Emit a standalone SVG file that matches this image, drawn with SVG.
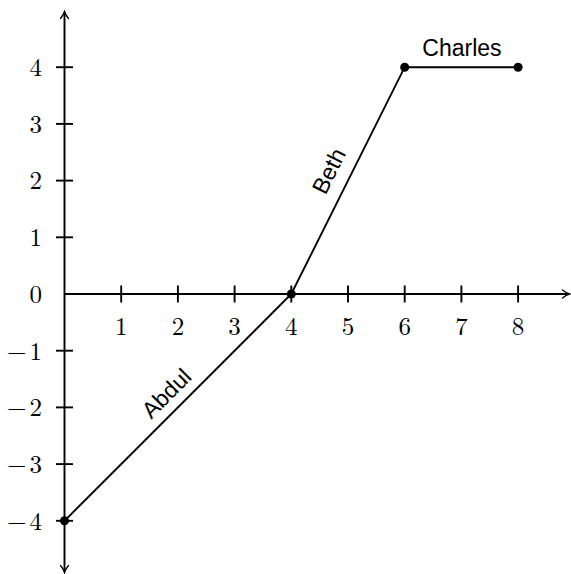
<svg xmlns="http://www.w3.org/2000/svg" width="571" height="574" viewBox="0 0 571 574">
<defs>
<style>
.ax{stroke:#000;stroke-width:1.9;fill:none}
.tk{stroke:#000;stroke-width:1.9}
.num{font-family:"Latin Modern Roman","Liberation Serif",serif;font-size:25px;fill:#000}
.nl{text-anchor:end}
.nx{text-anchor:middle}
.lbl{font-family:"Liberation Sans","DejaVu Sans",sans-serif;font-size:23px;fill:#000;text-anchor:middle}
.seg{stroke:#000;stroke-width:1.9;fill:none}
.dot{fill:#000}
</style>
<marker id="arr" viewBox="-8 -5 10 10" refX="0" refY="0" markerWidth="10" markerHeight="10" markerUnits="userSpaceOnUse" orient="auto">
<path d="M-6.5,-4 Q-2.5,-0.8 0.5,0 Q-2.5,0.8 -6.5,4" fill="none" stroke="#000" stroke-width="1.3" stroke-linecap="round"/>
</marker>
</defs>
<rect width="571" height="574" fill="#fff"/>
<g id="axes">
<line class="ax" x1="64.5" y1="294" x2="569" y2="294" marker-end="url(#arr)"/>
<line class="ax" x1="64.5" y1="294" x2="64.5" y2="12" marker-end="url(#arr)"/>
<line class="ax" x1="64.5" y1="294" x2="64.5" y2="572" marker-end="url(#arr)"/>
<g class="tk">
<line x1="121.2" y1="285.5" x2="121.2" y2="302.5"/>
<line x1="177.9" y1="285.5" x2="177.9" y2="302.5"/>
<line x1="234.6" y1="285.5" x2="234.6" y2="302.5"/>
<line x1="291.3" y1="285.5" x2="291.3" y2="302.5"/>
<line x1="348" y1="285.5" x2="348" y2="302.5"/>
<line x1="404.7" y1="285.5" x2="404.7" y2="302.5"/>
<line x1="461.4" y1="285.5" x2="461.4" y2="302.5"/>
<line x1="518.1" y1="285.5" x2="518.1" y2="302.5"/>
<line x1="56" y1="67.2" x2="73" y2="67.2"/>
<line x1="56" y1="123.9" x2="73" y2="123.9"/>
<line x1="56" y1="180.6" x2="73" y2="180.6"/>
<line x1="56" y1="237.3" x2="73" y2="237.3"/>
<line x1="56" y1="350.7" x2="73" y2="350.7"/>
<line x1="56" y1="407.4" x2="73" y2="407.4"/>
<line x1="56" y1="464.1" x2="73" y2="464.1"/>
<line x1="56" y1="520.8" x2="73" y2="520.8"/>
</g>
<g class="num nx">
<text x="121.2" y="334.5">1</text>
<text x="177.9" y="334.5">2</text>
<text x="234.6" y="334.5">3</text>
<text x="291.3" y="334.5">4</text>
<text x="348" y="334.5">5</text>
<text x="404.7" y="334.5">6</text>
<text x="461.4" y="334.5">7</text>
<text x="518.1" y="334.5">8</text>
</g>
<g class="num nl">
<text x="42" y="76">4</text>
<text x="42" y="132.7">3</text>
<text x="42" y="189.4">2</text>
<text x="42" y="246.1">1</text>
<text x="42" y="302.8">0</text>
<text x="42" y="359.5">−<tspan dx="3">1</tspan></text>
<text x="42" y="416.2">−<tspan dx="3">2</tspan></text>
<text x="42" y="472.9">−<tspan dx="3">3</tspan></text>
<text x="42" y="529.6">−<tspan dx="3">4</tspan></text>
</g>
</g>
<g id="connectors">
<polyline class="seg" points="64.5,520.8 291.3,294 404.7,67.2 518.1,67.2"/>
</g>
<g id="abdul">
<circle class="dot" cx="64.5" cy="520.8" r="4.5"/>
<text class="lbl" x="172" y="399" transform="rotate(-45 172 399)">Abdul</text>
</g>
<g id="beth">
<circle class="dot" cx="291.3" cy="294" r="4.5"/>
<text class="lbl" x="336" y="174.5" transform="rotate(-63.43 336 174.5)">Beth</text>
</g>
<g id="charles">
<circle class="dot" cx="404.7" cy="67.2" r="4.5"/>
<circle class="dot" cx="518.1" cy="67.2" r="4.5"/>
<text class="lbl" x="462" y="56">Charles</text>
</g>
</svg>
